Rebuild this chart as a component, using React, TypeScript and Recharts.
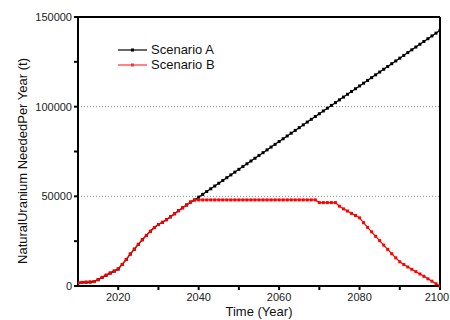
import React from 'react';
import {
  LineChart,
  Line,
  XAxis,
  YAxis,
  ReferenceLine,
} from 'recharts';

const years = [
  2010, 2011, 2012, 2013, 2014, 2015, 2016, 2017, 2018, 2019,
  2020, 2021, 2022, 2023, 2024, 2025, 2026, 2027, 2028, 2029,
  2030, 2031, 2032, 2033, 2034, 2035, 2036, 2037, 2038, 2039,
  2040, 2041, 2042, 2043, 2044, 2045, 2046, 2047, 2048, 2049,
  2050, 2051, 2052, 2053, 2054, 2055, 2056, 2057, 2058, 2059,
  2060, 2061, 2062, 2063, 2064, 2065, 2066, 2067, 2068, 2069,
  2070, 2071, 2072, 2073, 2074, 2075, 2076, 2077, 2078, 2079,
  2080, 2081, 2082, 2083, 2084, 2085, 2086, 2087, 2088, 2089,
  2090, 2091, 2092, 2093, 2094, 2095, 2096, 2097, 2098, 2099,
  2100,
];

const scenarioA = [
  1800, 2000, 2100, 2200, 2500, 3500, 4800, 6000, 7200, 8300,
  9500, 12000, 14800, 17800, 20500, 23200, 25800, 28200, 30500, 32600,
  34300, 35500, 37000, 38600, 40300, 42000, 43600, 45200, 46800, 48000,
  49550, 51100, 52650, 54200, 55750, 57300, 58850, 60400, 61950, 63500,
  65050, 66600, 68150, 69700, 71250, 72800, 74350, 75900, 77450, 79000,
  80550, 82100, 83650, 85200, 86750, 88300, 89850, 91400, 92950, 94500,
  96050, 97600, 99150, 100700, 102250, 103800, 105350, 106900, 108450, 110000,
  111550, 113100, 114650, 116200, 117750, 119300, 120850, 122400, 123950, 125500,
  127050, 128600, 130150, 131700, 133250, 134800, 136350, 137900, 139450, 141000,
  142550,
];

const scenarioB = [
  1800, 2000, 2100, 2200, 2500, 3500, 4800, 6000, 7200, 8300,
  9500, 12000, 14800, 17800, 20500, 23200, 25800, 28200, 30500, 32600,
  34300, 35500, 37000, 38600, 40300, 42000, 43600, 45200, 46800, 48000,
  48000, 48000, 48000, 48000, 48000, 48000, 48000, 48000, 48000, 48000,
  48000, 48000, 48000, 48000, 48000, 48000, 48000, 48000, 48000, 48000,
  48000, 48000, 48000, 48000, 48000, 48000, 48000, 48000, 48000, 48000,
  46500, 46500, 46500, 46500, 46500, 44500, 43000, 41800, 40500, 39300,
  38000, 35300, 32700, 30200, 27700, 25300, 22800, 20400, 18000, 15700,
  13500, 12000, 10600, 9300, 8000, 6700, 5400, 4000, 2700, 1300,
  0,
];

const xTicks = [2020, 2030, 2040, 2050, 2060, 2070, 2080, 2090, 2100];
const yTicks = [0, 25000, 50000, 75000, 100000, 125000, 150000];
const gridValues = [50000, 100000];

const data = years.map((year, i) => ({
  year,
  a: scenarioA[i],
  b: scenarioB[i],
}));

const FONT = '"Liberation Sans", Arial, sans-serif';

const squareDot = (color: string) => (props: any) => {
  const { cx, cy, index } = props;
  if (cx == null || cy == null) return <g key={index} />;
  return (
    <rect key={index} x={cx - 1.5} y={cy - 1.5} width={3} height={3} fill={color} />
  );
};

// year labels only every 20 years; last one nudged so it stays inside the picture
const XTick = (props: any) => {
  const { x, y, payload } = props;
  const v = payload.value;
  if (v % 20 !== 0) return <g />;
  const shift = v === 2100 ? -3 : 0;
  return (
    <text
      x={x + shift}
      y={y + 9}
      textAnchor="middle"
      fontFamily={FONT}
      fontSize={11}
      fill="#222"
    >
      {v}
    </text>
  );
};

const legendItems = [
  { name: 'Scenario A', color: '#000' },
  { name: 'Scenario B', color: '#ff3333' },
];

const ChartLegend = () => (
  <div
    style={{
      position: 'absolute',
      left: 118,
      top: 42,
      fontFamily: FONT,
      fontSize: 13,
      color: '#111',
      lineHeight: '15px',
    }}
  >
    {legendItems.map((item) => (
      <div key={item.name} style={{ display: 'flex', alignItems: 'center', height: 15 }}>
        <svg width={30} height={6} style={{ marginRight: 3 }}>
          <line x1={0} y1={3} x2={29} y2={3} stroke={item.color} strokeWidth={1.2} />
          <rect x={13} y={1.5} width={3} height={3} fill={item.color} />
        </svg>
        <span>{item.name}</span>
      </div>
    ))}
  </div>
);

const YLabel = () => (
  <text
    x={22}
    y={161}
    transform="rotate(-90 22 161)"
    textAnchor="middle"
    dominantBaseline="central"
    fontFamily={FONT}
    fontSize={13}
    fill="#111"
  >
    NaturalUranium NeededPer Year (t)
  </text>
);

const XLabel = () => (
  <text
    x={259}
    y={311}
    textAnchor="middle"
    dominantBaseline="central"
    fontFamily={FONT}
    fontSize={13}
    fill="#111"
  >
    Time (Year)
  </text>
);

export default function App() {
  return (
    <div style={{ position: 'absolute', left: 0, top: 0, width: 450, height: 320, background: '#fff' }}>
      <LineChart
        width={450}
        height={320}
        data={data}
        margin={{ top: 17, right: 10, bottom: 0, left: 0 }}
      >
        <XAxis
          dataKey="year"
          type="number"
          domain={[2010, 2100]}
          ticks={xTicks}
          interval={0}
          allowDataOverflow
          stroke="#000"
          strokeWidth={2}
          tickSize={4}
          height={34}
          tick={<XTick />}
          label={<XLabel />}
        />
        <YAxis
          type="number"
          domain={[0, 150000]}
          ticks={yTicks}
          interval={0}
          width={78}
          stroke="#000"
          strokeWidth={2}
          tickSize={4}
          tick={{ fontFamily: FONT, fontSize: 11, fill: '#222' }}
          tickFormatter={(v: number) => (v % 50000 === 0 ? String(v) : '')}
          label={<YLabel />}
        />
        {gridValues.map((v) => (
          <ReferenceLine key={v} y={v} stroke="#888" strokeDasharray="1 2" />
        ))}
        <ReferenceLine y={150000} stroke="#000" strokeWidth={2} />
        <ReferenceLine x={2100} stroke="#000" strokeWidth={2} />
        <Line
          dataKey="a"
          name="Scenario A"
          stroke="#000"
          strokeWidth={1.2}
          dot={squareDot('#000')}
          isAnimationActive={false}
        />
        <Line
          dataKey="b"
          name="Scenario B"
          stroke="#ff0000"
          strokeWidth={1.2}
          dot={squareDot('#ff0000')}
          isAnimationActive={false}
        />
      </LineChart>
      <ChartLegend />
    </div>
  );
}
